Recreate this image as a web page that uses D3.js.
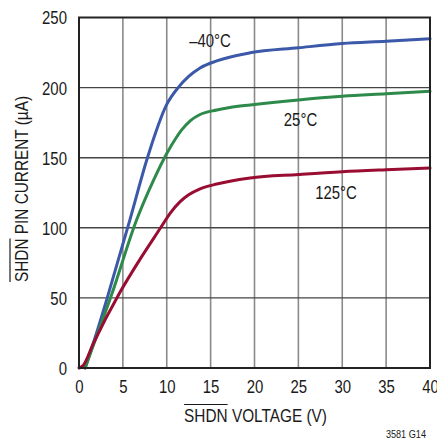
<!DOCTYPE html>
<html><head><meta charset="utf-8">
<script src="https://cdn.jsdelivr.net/npm/d3@7"></script>
<style>
html,body{margin:0;padding:0;background:#fff;}
text{font-family:"Liberation Sans",Arial,sans-serif;fill:#1a1a1a;}
</style></head>
<body><svg id="c" width="437" height="440"></svg>
<script>
const xTicks = [0,5,10,15,20,25,30,35,40];
const yTicks = [0,50,100,150,200,250];
const voltsM40 = [0.7,1.8,3.15,5.8,7.8,10.0,11.3,12.5,13.8,15.7,19.5,25,30,35,40];
const currM40  = [0,21,48.6,105.7,150,188,200,208,214,219,224.8,228.4,231.4,233,234.8];
const volts25 = [0.7,1.8,3.7,6.57,8.5,10,11,11.7,12.7,13.8,15.7,17.2,19.5,25,30,35,40];
const curr25  = [0,19,52,105.7,134,153,163.5,169.8,176.5,180.8,184,185.8,187.6,191.2,193.8,195.6,197.4];
const volts125 = [0,0.5,1.6,4.67,7,9.3,10.4,11.5,12.5,13.8,15.7,17.2,19.5,25,30,35,40];
const curr125  = [0,2,17,54,78,100,110.5,118.5,123.5,127.8,131.2,133.2,135.5,138,140,141.4,142.6];
const seriesNames = ["–40°C","25°C","125°C"];
const seriesColors = ["#3b59a8","#2e8a4b","#980d31"];
const K = 0.83; // horizontal condensing of text

const svg = d3.select("#c");
const x = d3.scaleLinear().domain([0,40]).range([79,430]);
const y = d3.scaleLinear().domain([0,250]).range([368,17.5]);

function condense(sel){
  sel.each(function(){
    const L = this.getComputedTextLength();
    d3.select(this).attr("textLength",L*K).attr("lengthAdjust","spacingAndGlyphs");
  });
}

// grid
svg.append("g").selectAll("line").data(xTicks.slice(1,-1)).join("line")
  .attr("x1",d=>x(d)).attr("x2",d=>x(d)).attr("y1",y(250)).attr("y2",y(0))
  .attr("stroke","#8a8a8a").attr("stroke-width",1.6);
svg.append("g").selectAll("line").data(yTicks.slice(1,-1)).join("line")
  .attr("y1",d=>y(d)).attr("y2",d=>y(d)).attr("x1",x(0)).attr("x2",x(40))
  .attr("stroke","#444").attr("stroke-width",1.4);

// series
const data = [
  d3.zip(voltsM40,currM40),
  d3.zip(volts25,curr25),
  d3.zip(volts125,curr125)
];
const line = d3.line().x(d=>x(d[0])).y(d=>y(d[1])).curve(d3.curveMonotoneX);
svg.append("g").selectAll("path").data(data).join("path")
  .attr("d",line).attr("fill","none")
  .attr("stroke",(d,i)=>seriesColors[i]).attr("stroke-width",3)
  .attr("stroke-linecap","round");

// frame
svg.append("rect").attr("x",x(0)).attr("y",y(250)).attr("width",x(40)-x(0)).attr("height",y(0)-y(250))
  .attr("fill","none").attr("stroke","#222").attr("stroke-width",2);

// axes tick labels
const xAxis = d3.axisBottom(x).tickValues(xTicks).tickSize(0).tickPadding(0).tickFormat(d3.format("d"));
const gx = svg.append("g").attr("transform",`translate(0,${y(0)})`).call(xAxis);
gx.select(".domain").remove();
gx.selectAll("text").attr("dy",null).attr("y",25).style("font-size","18px").attr("fill","#1a1a1a")
  .style("font-family",'"Liberation Sans",Arial,sans-serif').call(condense);
const yAxis = d3.axisLeft(y).tickValues(yTicks).tickSize(0).tickPadding(12).tickFormat(d3.format("d"));
const gy = svg.append("g").attr("transform",`translate(${x(0)},0)`).call(yAxis);
gy.select(".domain").remove();
gy.selectAll("text").attr("dy","0.36em").style("font-size","18px").attr("fill","#1a1a1a")
  .style("font-family",'"Liberation Sans",Arial,sans-serif').call(condense);

// series labels
const labelPos = [[210,46.5],[300.5,126],[336,199]];
svg.append("g").selectAll("text").data(seriesNames).join("text")
  .attr("x",(d,i)=>labelPos[i][0]).attr("y",(d,i)=>labelPos[i][1])
  .attr("text-anchor","middle").style("font-size","18px").text(d=>d).call(condense);

// axis titles with overline on SHDN (two text pieces)
function title(g, rest){
  const fs = 18.5;
  const gap = fs*0.278*K;
  const a = g.append("text").style("font-size",fs+"px").text("SHDN");
  const b = g.append("text").style("font-size",fs+"px").text(rest);
  const wa = a.node().getComputedTextLength()*K;
  const wb = b.node().getComputedTextLength()*K;
  const total = wa + gap + wb;
  a.attr("x",-total/2).attr("textLength",wa).attr("lengthAdjust","spacingAndGlyphs");
  b.attr("x",-total/2+wa+gap).attr("textLength",wb).attr("lengthAdjust","spacingAndGlyphs");
  g.append("line").attr("x1",-total/2).attr("x2",-total/2+wa).attr("y1",-17.5).attr("y2",-17.5)
    .attr("stroke","#1a1a1a").attr("stroke-width",1.2);
}
title(svg.append("g").attr("transform","translate(255.5,422)"), "VOLTAGE (V)");
title(svg.append("g").attr("transform","translate(27.5,189) rotate(-90)"), "PIN CURRENT (µA)");

svg.append("text").attr("x",426).attr("y",438).attr("text-anchor","end")
  .style("font-size","11px").text("3581 G14").call(condense);
</script></body></html>
